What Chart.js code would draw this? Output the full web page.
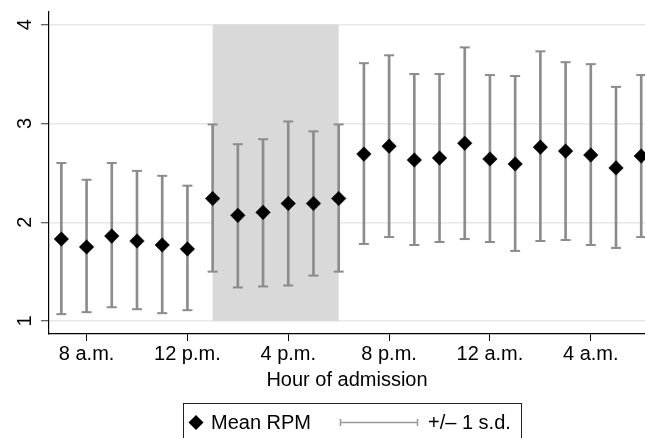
<!DOCTYPE html>
<html>
<head>
<meta charset="utf-8">
<script src="https://cdn.jsdelivr.net/npm/chart.js@4.4.1/dist/chart.umd.min.js"></script>
<style>
    html, body { margin: 0; padding: 0; background: #fff; overflow: hidden; }
    #wrap { width: 645px; height: 438px; }
</style>
</head>
<body>
<div id="wrap"><canvas id="chart" width="645" height="438"></canvas></div>
<script>
// hour of admission (7 = 7 a.m. ... 30 = 6 a.m. next day)
const hours = [7, 8, 9, 10, 11, 12, 13, 14, 15, 16, 17, 18, 19, 20, 21, 22, 23, 24, 25, 26, 27, 28, 29, 30];
const meanRpm = [1.83, 1.75, 1.86, 1.81, 1.77, 1.73, 2.24, 2.07, 2.10, 2.19, 2.19, 2.24,
                 2.69, 2.77, 2.63, 2.65, 2.80, 2.64, 2.59, 2.76, 2.72, 2.68, 2.55, 2.67];
const upperSd = [2.60, 2.43, 2.60, 2.52, 2.47, 2.37, 2.99, 2.79, 2.84, 3.02, 2.92, 2.99,
                 3.61, 3.69, 3.50, 3.50, 3.77, 3.49, 3.48, 3.73, 3.62, 3.60, 3.37, 3.49];
const lowerSd = [1.07, 1.09, 1.14, 1.12, 1.08, 1.11, 1.50, 1.34, 1.35, 1.36, 1.46, 1.50,
                 1.78, 1.85, 1.77, 1.80, 1.83, 1.80, 1.71, 1.81, 1.82, 1.77, 1.74, 1.85];

const xTickHours = [8, 12, 16, 20, 24, 28];
const xTickLabels = ['8 a.m.', '12 p.m.', '4 p.m.', '8 p.m.', '12 a.m.', '4 a.m.'];
const yTicks = [1, 2, 3, 4];

// shaded block: 1 p.m. to 6 p.m.
const shadeHours = [13, 18];
const shadeRange = [1, 4];

const FONT = "'Liberation Sans', Arial, Helvetica, sans-serif";
const BAR_GRAY = '#8c8c8c';
Chart.defaults.font.family = FONT;
Chart.defaults.color = '#000';

const shadePlugin = {
    id: 'shade',
    beforeDatasetsDraw(chart) {
        const { ctx, scales: { x, y } } = chart;
        const x0 = x.getPixelForValue(shadeHours[0]);
        const x1 = x.getPixelForValue(shadeHours[1]);
        const y0 = y.getPixelForValue(shadeRange[1]);
        const y1 = y.getPixelForValue(shadeRange[0]);
        ctx.save();
        ctx.fillStyle = '#d9d9d9';
        ctx.fillRect(x0, y0, x1 - x0, y1 - y0);
        ctx.restore();
    }
};

// y tick labels are rotated in the original, so they are drawn here
const yLabelPlugin = {
    id: 'yLabels',
    afterDraw(chart) {
        const { ctx, scales: { y } } = chart;
        ctx.save();
        ctx.font = `20px ${FONT}`;
        ctx.fillStyle = '#000';
        ctx.textAlign = 'center';
        ctx.textBaseline = 'alphabetic';
        for (const v of yTicks) {
            ctx.save();
            ctx.translate(31, y.getPixelForValue(v));
            ctx.rotate(-Math.PI / 2);
            ctx.fillText(String(v), 0, 0);
            ctx.restore();
        }
        ctx.restore();
    }
};

const legendPlugin = {
    id: 'boxLegend',
    afterDraw(chart) {
        const ctx = chart.ctx;
        ctx.save();
        ctx.strokeStyle = '#222';
        ctx.lineWidth = 1;
        ctx.strokeRect(183.5, 403.5, 338, 50);

        // diamond
        ctx.fillStyle = '#000';
        ctx.beginPath();
        ctx.moveTo(196, 415);
        ctx.lineTo(203.5, 422.5);
        ctx.lineTo(196, 430);
        ctx.lineTo(188.5, 422.5);
        ctx.closePath();
        ctx.fill();

        ctx.font = `20px ${FONT}`;
        ctx.textBaseline = 'alphabetic';
        ctx.textAlign = 'left';
        ctx.fillText('Mean RPM', 211, 429);

        // error bar symbol
        ctx.strokeStyle = '#9a9a9a';
        ctx.lineWidth = 1.5;
        ctx.beginPath();
        ctx.moveTo(340, 422.5);
        ctx.lineTo(418, 422.5);
        ctx.moveTo(340.5, 419);
        ctx.lineTo(340.5, 426);
        ctx.moveTo(417.5, 419);
        ctx.lineTo(417.5, 426);
        ctx.stroke();

        ctx.fillText('+/\u2013 1 s.d.', 428, 429);
        ctx.restore();
    }
};

const ctx = document.getElementById('chart').getContext('2d');

new Chart(ctx, {
    type: 'bar',
    data: {
        datasets: [
            {
                type: 'line',
                label: 'Mean RPM',
                data: hours.map((h, i) => ({ x: h, y: meanRpm[i] })),
                showLine: false,
                pointStyle: 'rectRot',
                pointRadius: 7.3,
                pointBackgroundColor: '#000',
                pointBorderColor: '#000',
                pointBorderWidth: 0.5
            },
            {
                type: 'line',
                label: 'upper cap',
                data: hours.map((h, i) => ({ x: h, y: upperSd[i] })),
                showLine: false,
                pointStyle: 'line',
                pointRadius: 5,
                pointBorderColor: BAR_GRAY,
                pointBorderWidth: 2
            },
            {
                type: 'line',
                label: 'lower cap',
                data: hours.map((h, i) => ({ x: h, y: lowerSd[i] })),
                showLine: false,
                pointStyle: 'line',
                pointRadius: 5,
                pointBorderColor: BAR_GRAY,
                pointBorderWidth: 2
            },
            {
                type: 'bar',
                label: '+/- 1 s.d.',
                data: hours.map((h, i) => ({ x: h, y: [lowerSd[i], upperSd[i]] })),
                backgroundColor: BAR_GRAY,
                borderWidth: 0,
                barThickness: 2
            }
        ]
    },
    options: {
        responsive: false,
        animation: false,
        events: [],
        layout: {
            autoPadding: false,
            padding: { left: 41, right: 0, top: 12, bottom: 46 }
        },
        plugins: {
            legend: { display: false },
            tooltip: { enabled: false }
        },
        scales: {
            x: {
                type: 'linear',
                min: 6.51,
                max: 30.15,
                offset: false,
                afterBuildTicks: (axis) => {
                    axis.ticks = xTickHours.map(v => ({ value: v }));
                },
                ticks: {
                    autoSkip: false,
                    maxRotation: 0,
                    padding: 1,
                    font: { size: 20 },
                    color: '#000',
                    callback: (value) => xTickLabels[xTickHours.indexOf(value)]
                },
                grid: {
                    offset: false,
                    drawOnChartArea: false,
                    drawTicks: true,
                    tickLength: 7,
                    tickColor: '#000',
                    tickWidth: 1
                },
                border: { color: '#000', width: 1.2 },
                title: {
                    display: true,
                    text: 'Hour of admission',
                    font: { size: 20 },
                    color: '#000',
                    padding: { top: 1, bottom: 0 }
                }
            },
            y: {
                min: 0.869,
                max: 4.128,
                afterBuildTicks: (axis) => {
                    axis.ticks = yTicks.map(v => ({ value: v }));
                },
                ticks: { display: false },
                grid: {
                    color: '#e8e8e8',
                    lineWidth: 1.5,
                    drawTicks: true,
                    tickLength: 8,
                    tickColor: '#333',
                    tickWidth: 1
                },
                border: { color: '#000', width: 1.2 }
            }
        }
    },
    plugins: [shadePlugin, yLabelPlugin, legendPlugin]
});
</script>
</body>
</html>
